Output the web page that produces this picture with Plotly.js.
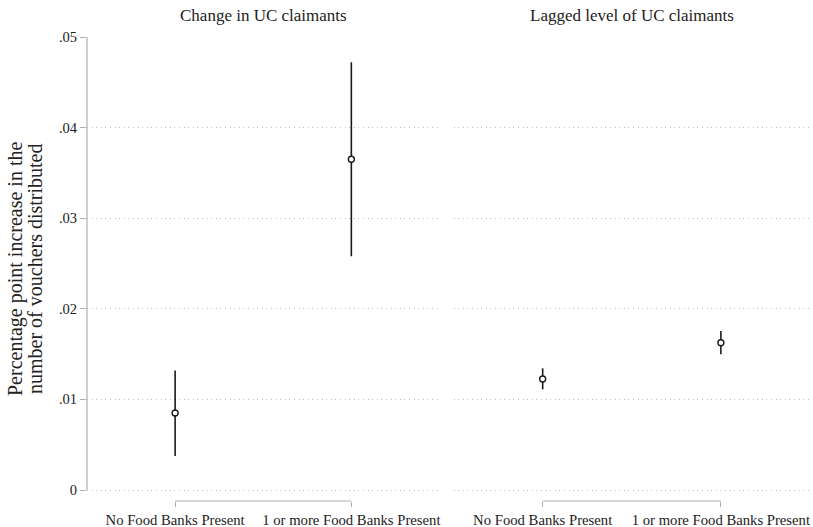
<!DOCTYPE html>
<html>
<head>
<meta charset="utf-8">
<script src="https://cdn.plot.ly/plotly-3.0.1.min.js"></script>
<style>html,body{margin:0;padding:0;background:#fff;}#chart{width:813px;height:527px;}</style>
</head>
<body>
<div id="chart"></div>
<script>
// ---- data ----
var categories = ["No Food Banks Present", "1 or more Food Banks Present"];
var panelTitles = ["Change in UC claimants", "Lagged level of UC claimants"];
var changeEst = [0.0085, 0.0365];
var changeLow = [0.00375, 0.0258];
var changeHigh = [0.0132, 0.0472];
var laggedEst = [0.01225, 0.01626];
var laggedLow = [0.0111, 0.01498];
var laggedHigh = [0.01343, 0.01755];
var yTickVals = [0, 0.01, 0.02, 0.03, 0.04, 0.05];
var yTickText = ["0", ".01", ".02", ".03", ".04", ".05"];
var yTitleLines = ["Percentage point increase in the", "number of vouchers distributed"];

var FONT = "Liberation Serif, Times New Roman, serif";
var TXT = "#222";

function trace(est, lo, hi, xa, ya) {
  return {
    type: "scatter", mode: "markers",
    x: categories, y: est, xaxis: xa, yaxis: ya,
    marker: {symbol: "circle", size: 6, color: "#ffffff", line: {color: "#1a1a1a", width: 1.4}},
    error_y: {
      type: "data", symmetric: false,
      array: hi.map(function (v, i) { return v - est[i]; }),
      arrayminus: est.map(function (v, i) { return v - lo[i]; }),
      color: "#1a1a1a", thickness: 1.6, width: 0
    },
    showlegend: false, hoverinfo: "skip"
  };
}

var data = [
  trace(changeEst, changeLow, changeHigh, "x", "y"),
  trace(laggedEst, laggedLow, laggedHigh, "x2", "y2")
];

var yRange = [-0.001214, 0.05];
var xRange = [-0.5, categories.length - 0.5];

function xaxis(domain) {
  return {
    domain: domain, type: "category", range: xRange, fixedrange: true,
    showgrid: false, zeroline: false, showline: false,
    ticks: "outside", ticklen: 5, tickwidth: 1, tickcolor: "#b0b0b0",
    tickvals: categories, ticktext: categories,
    tickfont: {family: FONT, size: 14.7, color: TXT}
  };
}

var yAxisBase = {
  range: yRange, zeroline: false, showline: false,
  showgrid: true, gridcolor: "#bdbdbd", griddash: "1px,3.6px", gridwidth: 1,
  tickvals: yTickVals, ticktext: yTickText
};

var annotations = [
  {text: panelTitles[0], xref: "x domain", yref: "paper", x: 0.5, y: 1, yshift: 22, showarrow: false,
   xanchor: "center", yanchor: "middle", font: {family: FONT, size: 17, color: TXT}},
  {text: panelTitles[1], xref: "x2 domain", yref: "paper", x: 0.5, y: 1, yshift: 22, showarrow: false,
   xanchor: "center", yanchor: "middle", font: {family: FONT, size: 17, color: TXT}}
];
var titleShifts = [-72, -52];
yTitleLines.forEach(function (t, i) {
  annotations.push({text: t, xref: "paper", yref: "paper", x: 0, y: 0.5, xshift: titleShifts[i],
    textangle: -90, showarrow: false, xanchor: "center", yanchor: "middle",
    font: {family: FONT, size: 20, color: TXT}});
});

var layout = {
  width: 813, height: 527,
  margin: {l: 87, r: 3, t: 37, b: 26},
  paper_bgcolor: "#fff", plot_bgcolor: "#fff",
  font: {family: FONT, color: TXT},
  xaxis: xaxis([0, 0.4875]),
  xaxis2: xaxis([0.507, 1]),
  yaxis: Object.assign({}, yAxisBase, {
    anchor: "x", ticks: "outside", ticklen: 6, tickcolor: "#b0b0b0",
    tickfont: {family: FONT, size: 14.5, color: TXT}
  }),
  yaxis2: Object.assign({}, yAxisBase, {anchor: "x2", showticklabels: false, ticks: ""}),
  shapes: [
    {type: "line", xref: "x domain", yref: "y", x0: 0, x1: 0, y0: yTickVals[0], y1: yTickVals[yTickVals.length - 1],
     line: {color: "#b0b0b0", width: 1.2}},
    {type: "line", xref: "x", yref: "y domain", x0: 0, x1: categories.length - 1, y0: 0, y1: 0,
     line: {color: "#b0b0b0", width: 1.2}},
    {type: "line", xref: "x2", yref: "y2 domain", x0: 0, x1: categories.length - 1, y0: 0, y1: 0,
     line: {color: "#b0b0b0", width: 1.2}}
  ],
  annotations: annotations
};

Plotly.newPlot("chart", data, layout, {displayModeBar: false, staticPlot: true});
</script>
</body>
</html>
